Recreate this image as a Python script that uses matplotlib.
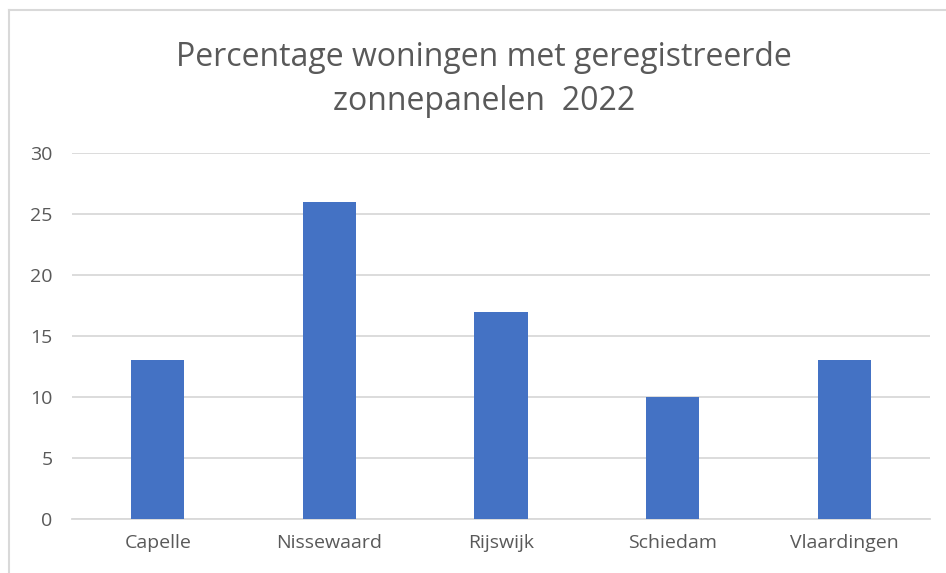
import matplotlib
matplotlib.use('Agg')
import matplotlib.pyplot as plt
from matplotlib.lines import Line2D

plt.rcParams['font.family'] = ['Open Sans', 'DejaVu Sans']

gemeenten = ['Capelle', 'Nissewaard', 'Rijswijk', 'Schiedam', 'Vlaardingen']
percentage = [13, 26, 17, 10, 13]
yticks = [0, 5, 10, 15, 20, 25, 30]

W, H = 946, 573
fig = plt.figure(figsize=(W / 100, H / 100), dpi=100)
ax = fig.add_axes([72 / W, 1 - 519 / H, (930 - 72) / W, (519 - 153) / H])

x = range(len(gemeenten))
ax.bar(x, percentage, width=0.31, color='#4472c4', zorder=3)
ax.set_xlim(-0.5, len(gemeenten) - 0.5)
ax.set_ylim(0, 30)
ax.set_yticks(yticks)
ax.set_xticks(list(x))
ax.set_xticklabels(gemeenten)
ax.grid(axis='y', color='#d9d9d9', linewidth=1.3, zorder=0)
for s in ['top', 'right', 'left']:
    ax.spines[s].set_visible(False)
ax.spines['bottom'].set_color('#d9d9d9')
ax.spines['bottom'].set_linewidth(1.3)
ax.tick_params(axis='both', length=0, labelsize=14, colors='#595959')
ax.tick_params(axis='y', pad=14)
ax.tick_params(axis='x', pad=11)

fig.text(484 / W, 1 - 57 / H, 'Percentage woningen met geregistreerde',
         ha='center', va='center', fontsize=23, color='#595959')
fig.text(484 / W, 1 - 101 / H, 'zonnepanelen  2022',
         ha='center', va='center', fontsize=23, color='#595959')

# chart border (left + top visible in the crop)
fig.add_artist(Line2D([8.5 / W, 8.5 / W], [0, 1 - 10 / H], transform=fig.transFigure,
                      color='#d9d9d9', linewidth=1.5))
fig.add_artist(Line2D([8.5 / W, 1], [1 - 10 / H, 1 - 10 / H], transform=fig.transFigure,
                      color='#d9d9d9', linewidth=1.5))

fig.savefig('out.png', dpi=100)
